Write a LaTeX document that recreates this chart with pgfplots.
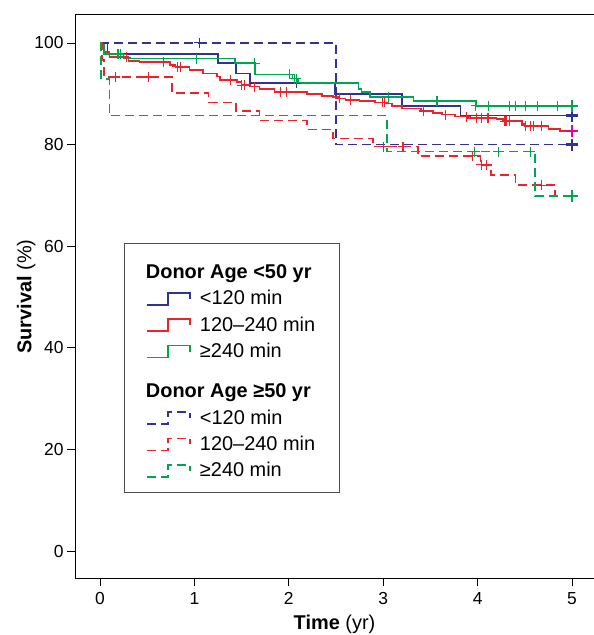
\documentclass[border=0pt]{standalone}
\usepackage{pgfplots}
\pgfplotsset{compat=1.18}
\usepackage{fontspec}
\setmainfont{Liberation Sans}

\definecolor{kmblue}{RGB}{50,50,150}
\definecolor{kmred}{RGB}{235,35,45}
\definecolor{kmgreen}{RGB}{0,165,80}
\definecolor{kmpink}{RGB}{235,0,140}

\begin{document}
\begin{tikzpicture}
\begin{axis}[
  scale only axis, width=519bp, height=563bp,
  xmin=-0.265, xmax=5.233, ymin=-5.3, ymax=105.5,
  axis x line=box, axis y line=left,
  axis line style={-, line width=1bp},
  xtick={0,1,2,3,4,5}, ytick={0,20,40,60,80,100},
  xtick pos=bottom, ytick pos=left,
  tick align=outside, major tick length=8bp,
  tick style={line width=0.8bp, black},
  /pgf/number format/assume math mode=true,
  tick label style={font=\fontsize{17.5}{20}\selectfont},
  xticklabel style={yshift=-3bp},
  label style={font=\fontsize{20}{24}\selectfont},
  xlabel={\textbf{Time} (yr)}, ylabel={\textbf{Survival} (\%)},
  xlabel style={yshift=-3bp},
  ylabel style={yshift=-8bp},
  every axis plot/.append style={line width=1.6bp},
  mark size=5bp,
  legend cell align=left,
  legend image code/.code={
    \draw[#1] (0bp,-6bp) -- (21bp,-6bp) -- (21bp,6bp) -- (43bp,6bp) -- (43bp,0bp);
    \path (50bp,0bp);
  },
  legend style={at={(rel axis cs:0.0944,0.595)}, anchor=north west,
    draw=black!70, line width=0.8bp, font=\fontsize{20}{24}\selectfont,
    inner xsep=22bp, inner ysep=11bp, row sep=5.5bp,
    nodes={inner sep=2pt, text depth=0.25em}},
  cens/.style={only marks, mark=+, forget plot, line width=1.1bp},
  endm/.style={only marks, mark=+, forget plot, line width=2.4bp, mark size=6bp},
  dsh/.style={dash pattern=on 9bp off 5bp},
]
\coordinate (bl) at (rel axis cs:0,0);
\coordinate (tr) at (rel axis cs:1,1);

\addlegendimage{empty legend}
\addlegendentry{\hspace*{-54bp}\rule{0pt}{22bp}\textbf{Donor Age <50 yr}}

% donor age < 50, < 120 min
\addplot[kmblue, const plot] coordinates {
  (0,100) (0.08,97.8) (1.25,96.0) (1.44,94.0) (1.59,92.1) (2.49,89.9)
  (3.2,87.6) (3.82,85.7) (5,85.7)
};
\addlegendentry{<120 min}

% donor age < 50, 120-240 min
\addplot[kmred, const plot] coordinates {
  (0,100) (0.02,99.0) (0.04,98.2) (0.1,97.2) (0.3,96.5) (0.42,96.2)
  (0.74,95.7) (0.8,95.3) (0.95,94.7) (1.09,94.0) (1.24,93.4) (1.27,92.7)
  (1.45,92.3) (1.5,91.7) (1.59,91.4) (1.69,90.9) (1.85,90.4) (2.19,90.0)
  (2.35,89.6) (2.47,89.4) (2.52,89.1) (2.6,88.8) (2.75,88.6) (2.91,88.3)
  (3.02,88.1) (3.09,87.6) (3.2,87.1) (3.4,86.6) (3.53,86.2) (3.62,85.9)
  (3.76,85.5) (3.9,85.2) (4.2,85.0) (4.27,84.6) (4.47,84.0) (4.5,83.7)
  (4.75,83.1) (4.87,82.7) (5,82.7)
};
\addlegendentry{120–240 min}

% donor age < 50, >= 240 min
\addplot[kmgreen, const plot] coordinates {
  (0,100) (0.04,97.8) (0.25,96.9) (1.43,96.0) (1.64,93.8) (2.04,93.0)
  (2.1,92.1) (2.74,90.9) (2.77,90.3) (2.86,89.4) (3.32,88.6) (3.98,87.6)
  (5,87.6)
};
\addlegendentry{≥240 min}

\addlegendimage{empty legend}
\addlegendentry{\hspace*{-54bp}\rule{0pt}{28bp}\textbf{Donor Age ≥50 yr}}

% donor age >= 50, < 120 min
\addplot[kmblue, const plot, dsh] coordinates {
  (0,100) (2.5,80.0) (5,80.0)
};
\addlegendentry{<120 min}

% donor age >= 50, 120-240 min
\addplot[kmred, const plot, dsh] coordinates {
  (0,100) (0.02,96.7) (0.04,93.3) (0.76,90.1) (1.15,88.3) (1.44,86.6)
  (1.69,84.7) (2.19,83.0) (2.47,81.2) (2.89,79.6) (3.37,77.8) (4.03,76.0)
  (4.14,74.0) (4.4,72.0) (4.82,69.9) (5,69.9)
};
\addlegendentry{120–240 min}

% donor age >= 50, >= 240 min
\addplot[kmgreen, const plot, dsh] coordinates {
  (0,100) (0.01,92.9) (0.1,85.7) (3.04,78.6) (4.61,69.9) (5,69.9)
};
\addlegendentry{≥240 min}

% censored observations
\addplot[kmblue, cens] coordinates {(2.08,92.1) (1.05,100)};
\addplot[kmred, cens] coordinates {
  (0.28,97.2) (0.67,96.2) (0.82,95.3) (0.85,95.3) (1.38,92.7) (1.5,91.7)
  (1.53,91.7) (1.64,91.4) (1.91,90.4) (1.98,90.4) (2.54,89.1) (2.65,88.8)
  (2.99,88.3) (3.01,88.3) (3.43,86.6) (3.66,85.9) (3.88,85.5) (3.99,85.2)
  (4.04,85.2) (4.11,85.2) (4.29,84.6) (4.31,84.6) (4.34,84.6) (4.51,83.7)
  (4.56,83.7) (4.59,83.7) (4.68,83.7)
  (0.16,93.3) (0.51,93.3) (3.0,79.6) (3.21,79.6) (3.95,77.8) (4.04,76.0)
  (4.09,76.0) (4.68,72.0)
};
\addplot[kmgreen, cens] coordinates {
  (0.19,97.8) (0.22,97.8) (1.02,96.9) (1.64,96.0) (2.01,93.8) (2.06,93.0)
  (2.08,93.0) (3.06,89.4) (3.57,88.6) (3.98,87.6) (4.12,87.6) (4.34,87.6)
  (4.40,87.6) (4.51,87.6) (4.63,87.6) (4.85,87.6)
  (3.97,78.6) (4.22,78.6) (4.56,78.6)
};
\addplot[kmblue, endm] coordinates {(5,85.7) (5,80.0)};
\addplot[kmpink, endm] coordinates {(5,82.7)};
\addplot[kmred, endm] coordinates {(5,69.9)};
\addplot[kmgreen, endm] coordinates {(5,87.6) (5,69.9)};
\end{axis}
\pgfresetboundingbox
\useasboundingbox ([xshift=-75bp,yshift=-57bp]bl) rectangle ([yshift=15bp]tr);
\end{tikzpicture}
\end{document}
